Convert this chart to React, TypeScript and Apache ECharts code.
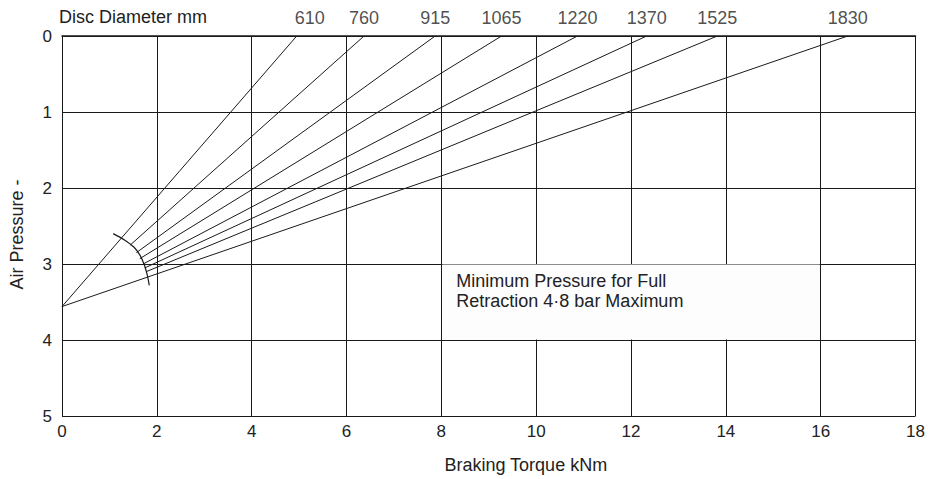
import React, { useEffect, useRef } from "react";
import * as echarts from "echarts";

const diameters = ["610", "760", "915", "1065", "1220", "1370", "1525", "1830"];
const topTorque = [4.95, 6.37, 7.87, 9.27, 10.87, 12.33, 13.82, 16.57];
const startTorque = [0, 1.44, 1.57, 1.64, 1.71, 1.75, 1.78, 0];
const startPressure = [3.56, 2.75, 2.85, 2.93, 3.0, 3.05, 3.1, 3.56];
const arcTorque = [1.08, 1.31, 1.52, 1.65, 1.74, 1.8, 1.84];
const arcPressure = [2.6, 2.68, 2.78, 2.89, 3.02, 3.15, 3.28];
const noteLines = ["Minimum Pressure for Full", "Retraction 4·8 bar Maximum"];
const noteBox = [[8, 3], [16, 4]];

const FONT = "'Liberation Sans', Arial, sans-serif";
const INK = "#1a1a1a";
const TXT = "#222";

export default function App() {
  const ref = useRef<HTMLDivElement>(null);
  useEffect(() => {
    const chart = echarts.init(ref.current!, null, { renderer: "svg" });
    const lineSeries = diameters.map((d, i) => ({
      type: "line",
      name: d,
      silent: true,
      symbol: "none",
      z: 5,
      lineStyle: { color: INK, width: 1 },
      data: [
        [startTorque[i], startPressure[i]],
        [topTorque[i], 0],
      ],
    }));
    const option = {
      animation: false,
      backgroundColor: "#fff",
      textStyle: { fontFamily: FONT },
      title: {
        text: "Disc Diameter mm",
        left: 59,
        top: 8,
        padding: 0,
        textStyle: { fontFamily: FONT, fontSize: 18, fontWeight: "normal", color: TXT },
      },
      grid: { left: 59, right: 9, top: 36, bottom: 63 },
      xAxis: {
        type: "value",
        min: 0,
        max: 18,
        interval: 2,
        name: "Braking Torque kNm",
        nameLocation: "middle",
        nameGap: 40,
        nameMoveOverlap: false,
        nameTextStyle: { fontFamily: FONT, fontSize: 18, color: TXT, padding: [0, 0, 0, 74] },
        axisLine: { show: true, lineStyle: { color: INK, width: 1.5 } },
        axisTick: { show: false },
        axisLabel: { fontFamily: FONT, fontSize: 17, color: TXT, margin: 7 },
        splitLine: { show: true, lineStyle: { color: INK, width: 1 } },
      },
      yAxis: {
        type: "value",
        inverse: true,
        min: 0,
        max: 5,
        interval: 1,
        name: "Air Pressure -",
        nameLocation: "middle",
        nameGap: 36,
        nameMoveOverlap: false,
        nameTextStyle: { fontFamily: FONT, fontSize: 18, color: TXT, padding: [0, 17, 0, 0] },
        axisLine: { show: true, lineStyle: { color: INK, width: 1 } },
        axisTick: { show: false },
        axisLabel: { fontFamily: FONT, fontSize: 17, color: TXT, margin: 10 },
        splitLine: { show: true, lineStyle: { color: INK, width: 1 } },
      },
      series: [
        ...lineSeries,
        {
          type: "scatter",
          name: "labels",
          silent: true,
          symbol: "circle",
          symbolSize: 1,
          z: 6,
          itemStyle: { color: "rgba(0,0,0,0)" },
          label: {
            show: true,
            position: "top",
            distance: 9,
            fontFamily: FONT,
            fontSize: 18,
            color: TXT,
            formatter: (p: any) => diameters[p.dataIndex],
          },
          data: topTorque.map((t, i) =>
            i === 0 ? { value: [t, 0], label: { offset: [13, 0] } } : [t, 0]
          ),
        },
        {
          type: "line",
          name: "arc",
          silent: true,
          symbol: "none",
          smooth: 0.3,
          z: 5,
          lineStyle: { color: INK, width: 1.2 },
          data: arcTorque.map((t, i) => [t, arcPressure[i]]),
        },
        {
          type: "line",
          name: "note",
          silent: true,
          symbol: "none",
          z: 4,
          data: [],
          markArea: {
            silent: true,
            itemStyle: { color: "#fdfdfd" },
            label: {
              show: true,
              position: "insideTopLeft",
              distance: 0,
              padding: [6, 0, 0, 14],
              formatter: noteLines.join("\n"),
              fontFamily: FONT,
              fontSize: 18,
              lineHeight: 20,
              color: TXT,
            },
            data: [
              [
                { coord: [noteBox[0][0] + 0.02, noteBox[0][1] + 0.008] },
                { coord: [noteBox[1][0] - 0.02, noteBox[1][1] - 0.008] },
              ],
            ],
          },
        },
      ],
    };
    chart.setOption(option as any);
    return () => chart.dispose();
  }, []);
  return <div ref={ref} style={{ width: 928, height: 479, position: "absolute", left: 0, top: 0 }} />;
}
